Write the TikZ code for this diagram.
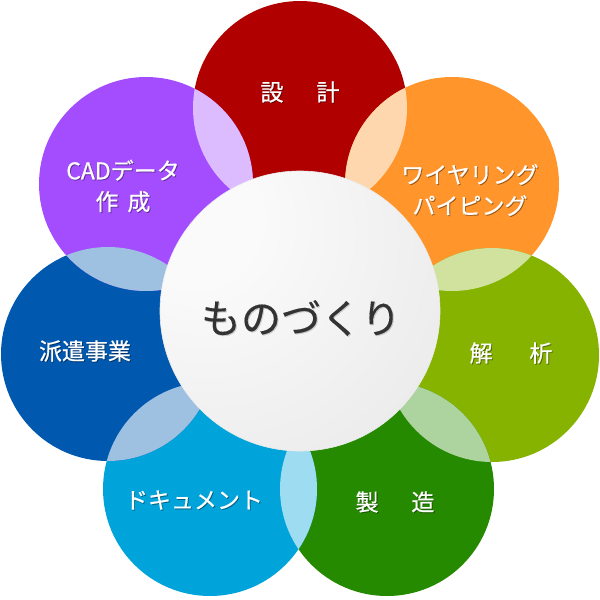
\documentclass[tikz,border=0pt]{standalone}
\usepackage{fontspec}
\setmainfont{Noto Sans CJK JP}
\newfontfamily\labfont{Noto Sans CJK JP}[FakeBold=0.6]
\newfontfamily\ctrfont{Noto Sans CJK JP}[FakeBold=0.3]
\definecolor{cred}{HTML}{B00000}
\definecolor{corange}{HTML}{FF952B}
\definecolor{cgy}{HTML}{86B200}
\definecolor{cgreen}{HTML}{268A00}
\definecolor{cblue}{HTML}{00A4DA}
\definecolor{cdblue}{HTML}{0058AF}
\definecolor{cpurple}{HTML}{A44DFF}
\definecolor{ballA}{HTML}{FAFAFA}
\definecolor{ballB}{HTML}{E6E6E6}
\definecolor{ballC}{HTML}{D9D9D9}
\definecolor{ctext}{HTML}{333333}
\pgfdeclareradialshading{ballsh}{\pgfpoint{-22bp}{19bp}}{color(0bp)=(ballA); color(12bp)=(ballA); color(55bp)=(ballB); color(85bp)=(ballC); color(100bp)=(ballC)}
\newcommand\mylab[3]{%
  \node[lblsh] (#2s) at (#1) {#3};
  \node[lbl] (#2) at (#1) {#3};}
\begin{document}
\begin{tikzpicture}[x=1pt,y=-1pt,
  petal/.style={circle, minimum size=214pt, inner sep=0pt, outer sep=0pt},
  lbl/.style={text=white, font=\labfont\fontsize{23}{31}\selectfont, align=center, inner sep=0pt},
  lblsh/.style={text=black, text opacity=0.35, font=\labfont\fontsize{23}{31}\selectfont, align=center, inner sep=0pt, xshift=0.9pt, yshift=-0.9pt}]
\useasboundingbox (0,0) rectangle (600,600);
% petals
\node[petal, fill=cred]    (p1) at (300,108) {};
\node[petal, fill=corange] (p2) at (452,184) {};
\node[petal, fill=cgy]     (p3) at (492,355) {};
\node[petal, fill=cgreen]  (p4) at (387,489) {};
\node[petal, fill=cblue]   (p5) at (210,489) {};
\node[petal, fill=cdblue]  (p6) at (108,354) {};
\node[petal, fill=cpurple] (p7) at (146,184) {};
% lenses
\newcommand\mylens[3]{%
  \begin{scope}
  \clip (#1.center) circle[radius=107pt];
  \fill[#3!38!white] (#2.center) circle[radius=107pt];
  \end{scope}}
\mylens{p1}{p7}{cpurple}
\mylens{p1}{p2}{corange}
\mylens{p2}{p3}{cgy}
\mylens{p3}{p4}{cgreen}
\mylens{p4}{p5}{cblue}
\mylens{p5}{p6}{cdblue}
\mylens{p6}{p7}{cdblue}
% centre ball
\node[circle, minimum size=280pt, inner sep=0pt, shade, shading=ballsh, draw=black!8, line width=0.6pt] (c) at (300,311) {};
\node[text=black, text opacity=0.15, font=\ctrfont\fontsize{40}{44}\selectfont, xshift=1pt, yshift=-1pt] (mts) at (301,318) {ものづくり};
\node[text=ctext, font=\ctrfont\fontsize{40}{44}\selectfont] (mt) at (301,318) {ものづくり};
% labels
\mylab{300,92}{l1}{設\hspace{1.43em}計}
\mylab{470,190}{l2}{ワイヤリング\\パイピング}
\mylab{511,353}{l3}{解\hspace{1.6em}析}
\mylab{395,502}{l4}{製\hspace{1.43em}造}
\mylab{194,500}{l5}{ドキュメント}
\mylab{85,351}{l6}{派遣事業}
\mylab{123,186}{l7}{CADデータ\\作\hspace{0.39em}成}
\end{tikzpicture}
\end{document}
